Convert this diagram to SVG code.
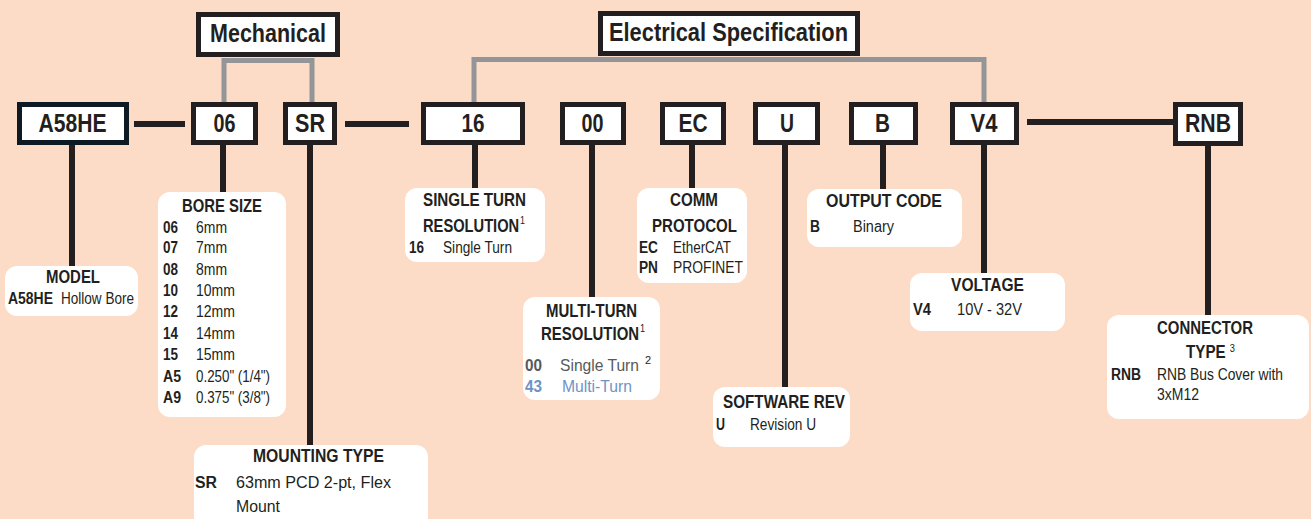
<svg xmlns="http://www.w3.org/2000/svg" width="1311" height="519" viewBox="0 0 1311 519">
<style>
.box{fill:#fff;stroke:#231F20;stroke-width:5}
.cap{fill:#fff}
text{font-family:"Liberation Sans",Arial,sans-serif;fill:#231F20}
.bt{font-weight:bold;font-size:25px}
.h{font-weight:bold;font-size:18px}
.k{font-weight:bold;font-size:16px}
.d{font-size:16px}
.sup{font-size:11px;font-weight:normal}
.gray{fill:#58595B}
.blue{fill:#6E93C6}
.gl{fill:none;stroke:#939598;stroke-width:5}
.bl{fill:none;stroke:#231F20;stroke-width:6}
</style>
<rect width="1311" height="519" fill="#FCDCC6"/>
<g id="connectors">
<path class="gl" d="M224 102V60.5H312V102"/>
<path class="gl" d="M474 102V59.5H984V102"/>
<path class="bl" d="M134 124H185M345 124H409M1027 122H1173"/>
<path class="bl" d="M72 145V266M223 145V192M310 145V445M475 145V188M592 145V297M692 145V188M785 145V388M883 145V190M984 145V273M1208 146V315"/>
</g>
<g id="mechanical"><rect class="box" x="198.5" y="14.5" width="139" height="40"/><text class="bt" x="210" y="42" textLength="116" lengthAdjust="spacingAndGlyphs">Mechanical</text></g>
<g id="electrical"><rect class="box" x="600.5" y="13.5" width="257" height="40"/><text class="bt" x="609" y="41" textLength="239" lengthAdjust="spacingAndGlyphs">Electrical Specification</text></g>
<g id="n-a58he"><rect class="box" x="19.5" y="104.5" width="107" height="38" style="stroke:#0D1A24"/><text class="bt" x="38.5" y="132" textLength="68" lengthAdjust="spacingAndGlyphs">A58HE</text></g>
<g id="n-06"><rect class="box" x="193.5" y="104.5" width="62" height="38"/><text class="bt" x="213.5" y="132" textLength="22" lengthAdjust="spacingAndGlyphs">06</text></g>
<g id="n-sr"><rect class="box" x="285.5" y="104.5" width="49" height="38"/><text class="bt" x="295" y="132" textLength="30" lengthAdjust="spacingAndGlyphs">SR</text></g>
<g id="n-16"><rect class="box" x="423.5" y="104.5" width="99" height="38"/><text class="bt" x="461.5" y="132" textLength="23" lengthAdjust="spacingAndGlyphs">16</text></g>
<g id="n-00"><rect class="box" x="562.5" y="104.5" width="61" height="38"/><text class="bt" x="581.5" y="132" textLength="22" lengthAdjust="spacingAndGlyphs">00</text></g>
<g id="n-ec"><rect class="box" x="662.5" y="104.5" width="61" height="38"/><text class="bt" x="678.5" y="132" textLength="29" lengthAdjust="spacingAndGlyphs">EC</text></g>
<g id="n-u"><rect class="box" x="755.5" y="104.5" width="62" height="38"/><text class="bt" x="780" y="132" textLength="14" lengthAdjust="spacingAndGlyphs">U</text></g>
<g id="n-b"><rect class="box" x="851.5" y="104.5" width="64" height="38"/><text class="bt" x="875" y="132" textLength="15" lengthAdjust="spacingAndGlyphs">B</text></g>
<g id="n-v4"><rect class="box" x="952.5" y="104.5" width="64" height="38"/><text class="bt" x="970.5" y="132" textLength="27" lengthAdjust="spacingAndGlyphs">V4</text></g>
<g id="n-rnb"><rect class="box" x="1175.5" y="104.5" width="65" height="39"/><text class="bt" x="1185" y="132" textLength="46" lengthAdjust="spacingAndGlyphs">RNB</text></g>

<g id="c-model"><rect class="cap" x="5" y="266" width="133" height="50" rx="12"/>
<text class="h" x="46" y="283" textLength="54" lengthAdjust="spacingAndGlyphs">MODEL</text>
<text class="k" x="8" y="304" textLength="45" lengthAdjust="spacingAndGlyphs">A58HE</text><text class="d" x="61" y="304" textLength="73" lengthAdjust="spacingAndGlyphs">Hollow Bore</text></g>

<g id="c-bore"><rect class="cap" x="158" y="192" width="128" height="225" rx="12"/>
<text class="h" x="182" y="212" textLength="80" lengthAdjust="spacingAndGlyphs">BORE SIZE</text>
<text class="k" x="163" y="233" textLength="15" lengthAdjust="spacingAndGlyphs">06</text><text class="d" x="196" y="233" textLength="31" lengthAdjust="spacingAndGlyphs">6mm</text>
<text class="k" x="163" y="253" textLength="15" lengthAdjust="spacingAndGlyphs">07</text><text class="d" x="196" y="253" textLength="31" lengthAdjust="spacingAndGlyphs">7mm</text>
<text class="k" x="163" y="275" textLength="15" lengthAdjust="spacingAndGlyphs">08</text><text class="d" x="196" y="275" textLength="31" lengthAdjust="spacingAndGlyphs">8mm</text>
<text class="k" x="163" y="296" textLength="15" lengthAdjust="spacingAndGlyphs">10</text><text class="d" x="196" y="296" textLength="39" lengthAdjust="spacingAndGlyphs">10mm</text>
<text class="k" x="163" y="317" textLength="15" lengthAdjust="spacingAndGlyphs">12</text><text class="d" x="196" y="317" textLength="39" lengthAdjust="spacingAndGlyphs">12mm</text>
<text class="k" x="163" y="339" textLength="15" lengthAdjust="spacingAndGlyphs">14</text><text class="d" x="196" y="339" textLength="39" lengthAdjust="spacingAndGlyphs">14mm</text>
<text class="k" x="163" y="360" textLength="15" lengthAdjust="spacingAndGlyphs">15</text><text class="d" x="196" y="360" textLength="39" lengthAdjust="spacingAndGlyphs">15mm</text>
<text class="k" x="163" y="382" textLength="18" lengthAdjust="spacingAndGlyphs">A5</text><text class="d" x="196" y="382" textLength="74" lengthAdjust="spacingAndGlyphs">0.250" (1/4")</text>
<text class="k" x="163" y="403" textLength="18" lengthAdjust="spacingAndGlyphs">A9</text><text class="d" x="196" y="403" textLength="74" lengthAdjust="spacingAndGlyphs">0.375" (3/8")</text></g>

<g id="c-mount"><rect class="cap" x="194" y="445" width="234" height="90" rx="12"/>
<text class="h" x="253" y="462" textLength="131" lengthAdjust="spacingAndGlyphs">MOUNTING TYPE</text>
<text class="k" x="195" y="488" textLength="22" lengthAdjust="spacingAndGlyphs">SR</text><text class="d" x="236" y="488" textLength="155" lengthAdjust="spacingAndGlyphs">63mm PCD 2-pt, Flex</text>
<text class="d" x="236" y="512" textLength="44" lengthAdjust="spacingAndGlyphs">Mount</text></g>

<g id="c-single"><rect class="cap" x="405" y="188" width="140" height="74" rx="12"/>
<text class="h" x="423" y="206" textLength="103" lengthAdjust="spacingAndGlyphs">SINGLE TURN</text>
<text class="h" x="423" y="232" textLength="102" lengthAdjust="spacingAndGlyphs">RESOLUTION<tspan class="sup" dx="1" dy="-8">1</tspan></text>
<text class="k" x="409" y="253" textLength="15" lengthAdjust="spacingAndGlyphs">16</text><text class="d" x="443" y="253" textLength="69" lengthAdjust="spacingAndGlyphs">Single Turn</text></g>

<g id="c-multi"><rect class="cap" x="523" y="297" width="137" height="103" rx="12"/>
<text class="h" x="546" y="317" textLength="91" lengthAdjust="spacingAndGlyphs">MULTI-TURN</text>
<text class="h" x="541" y="340" textLength="104" lengthAdjust="spacingAndGlyphs">RESOLUTION<tspan class="sup" dx="1" dy="-8">1</tspan></text>
<text class="k gray" x="525" y="371" textLength="17" lengthAdjust="spacingAndGlyphs">00</text><text class="d gray" x="560" y="371" textLength="79" lengthAdjust="spacingAndGlyphs" style="font-size:17px">Single Turn</text><text class="sup" x="645" y="364">2</text>
<text class="k blue" x="525" y="392" textLength="17" lengthAdjust="spacingAndGlyphs">43</text><text class="d blue" x="562" y="392" textLength="70" lengthAdjust="spacingAndGlyphs">Multi-Turn</text></g>

<g id="c-comm"><rect class="cap" x="637" y="188" width="110" height="95" rx="12"/>
<text class="h" x="670" y="206" textLength="48" lengthAdjust="spacingAndGlyphs">COMM</text>
<text class="h" x="652" y="232" textLength="85" lengthAdjust="spacingAndGlyphs">PROTOCOL</text>
<text class="k" x="639" y="253" textLength="19" lengthAdjust="spacingAndGlyphs">EC</text><text class="d" x="673" y="253" textLength="58" lengthAdjust="spacingAndGlyphs">EtherCAT</text>
<text class="k" x="639" y="273" textLength="19" lengthAdjust="spacingAndGlyphs">PN</text><text class="d" x="673" y="273" textLength="70" lengthAdjust="spacingAndGlyphs">PROFINET</text></g>

<g id="c-soft"><rect class="cap" x="713" y="387" width="137" height="60" rx="12"/>
<text class="h" x="723" y="408" textLength="122" lengthAdjust="spacingAndGlyphs">SOFTWARE REV</text>
<text class="k" x="716" y="430" textLength="9" lengthAdjust="spacingAndGlyphs">U</text><text class="d" x="750" y="430" textLength="66" lengthAdjust="spacingAndGlyphs">Revision U</text></g>

<g id="c-output"><rect class="cap" x="807" y="189" width="155" height="58" rx="12"/>
<text class="h" x="826" y="207" textLength="116" lengthAdjust="spacingAndGlyphs">OUTPUT CODE</text>
<text class="k" x="810" y="232" textLength="10" lengthAdjust="spacingAndGlyphs">B</text><text class="d" x="853" y="232" textLength="41" lengthAdjust="spacingAndGlyphs">Binary</text></g>

<g id="c-volt"><rect class="cap" x="910" y="273" width="155" height="58" rx="12"/>
<text class="h" x="951" y="291" textLength="73" lengthAdjust="spacingAndGlyphs">VOLTAGE</text>
<text class="k" x="913" y="315" textLength="18" lengthAdjust="spacingAndGlyphs">V4</text><text class="d" x="957" y="315" textLength="65" lengthAdjust="spacingAndGlyphs">10V - 32V</text></g>

<g id="c-conn"><rect class="cap" x="1107" y="315" width="202" height="104" rx="12"/>
<text class="h" x="1157" y="334" textLength="96" lengthAdjust="spacingAndGlyphs">CONNECTOR</text>
<text class="h" x="1186" y="358" textLength="49" lengthAdjust="spacingAndGlyphs">TYPE <tspan class="sup" dy="-6">3</tspan></text>
<text class="k" x="1111" y="380" textLength="30" lengthAdjust="spacingAndGlyphs">RNB</text><text class="d" x="1157" y="380" textLength="126" lengthAdjust="spacingAndGlyphs">RNB Bus Cover with</text>
<text class="d" x="1157" y="400" textLength="42" lengthAdjust="spacingAndGlyphs">3xM12</text></g>
</svg>
